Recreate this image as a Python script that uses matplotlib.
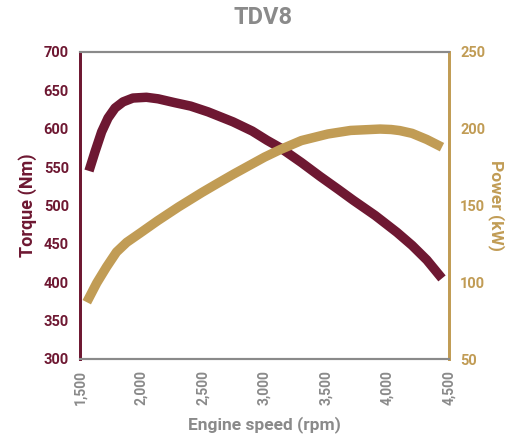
import matplotlib
matplotlib.use("Agg")
import matplotlib.pyplot as plt
from matplotlib.ticker import FuncFormatter

# Data
torque_rpm = [1573, 1622, 1676, 1728, 1785, 1850, 1930, 2040, 2135, 2270, 2400,
              2541, 2744, 2900, 3020, 3130, 3300, 3451, 3600, 3720, 3900,
              4077, 4200, 4320, 4443]
torque_nm = [545, 570, 596, 614, 627, 635, 640, 641, 639, 634, 629.5,
             622, 609, 597, 585, 575, 556, 538, 521, 507, 487,
             465, 448, 429, 405]

power_rpm = [1555, 1636, 1716, 1797, 1880, 1988, 2130, 2300, 2492, 2620, 2750,
             3000, 3130, 3300, 3516, 3700, 3940, 4030, 4100, 4200, 4320, 4443]
power_kw = [87, 99.5, 110, 119.7, 126, 132, 140, 149, 158.5, 164.5, 170.5,
            181.5, 186.5, 192.3, 196.6, 198.9, 199.8, 199.5, 198.8, 197, 193, 188]

x_ticks = [1500, 2000, 2500, 3000, 3500, 4000, 4500]
torque_ticks = [300, 350, 400, 450, 500, 550, 600, 650, 700]
power_ticks = [50, 100, 150, 200, 250]

MAROON = "#6e1832"
GOLD = "#c19c55"
GRAY = "#8a8a8a"

plt.rcParams['font.family'] = ['Roboto', 'DejaVu Sans']

fig = plt.figure(figsize=(5.11, 4.44), dpi=100)
ax = fig.add_axes([80/511, 1-359/444, (449-80)/511, (359-52)/444])
ax2 = ax.twinx()

ax.plot(torque_rpm, torque_nm, color=MAROON, lw=6.8, solid_capstyle='butt',
        solid_joinstyle='round', zorder=3)
ax2.plot(power_rpm, power_kw, color=GOLD, lw=6.8, solid_capstyle='butt',
         solid_joinstyle='round', zorder=2)

ax.set_xlim(1500, 4500)
ax.set_ylim(300, 700)
ax2.set_ylim(50, 250)
ax.set_xticks(x_ticks)
ax.set_yticks(torque_ticks)
ax2.set_yticks(power_ticks)
ax.xaxis.set_major_formatter(FuncFormatter(lambda v, p: f"{int(v):,}"))

ax.tick_params(axis='x', length=0, pad=8, labelsize=10, labelcolor=GRAY, rotation=90)
ax.tick_params(axis='y', length=0, pad=8, labelsize=10.5, labelcolor=MAROON)
ax2.tick_params(axis='y', length=0, pad=8, labelsize=10.5, labelcolor=GOLD)
for lab in ax.get_xticklabels() + ax.get_yticklabels() + ax2.get_yticklabels():
    lab.set_fontweight('bold')

for a in (ax, ax2):
    a.spines['top'].set_color(GRAY)
    a.spines['bottom'].set_color(GRAY)
    a.spines['top'].set_linewidth(1.5)
    a.spines['bottom'].set_linewidth(1.5)
    a.spines['left'].set_color(MAROON)
    a.spines['left'].set_linewidth(2)
    a.spines['right'].set_color(GOLD)
    a.spines['right'].set_linewidth(2)

ax.set_ylabel("Torque (Nm)", color=MAROON, fontsize=13, fontweight='bold', labelpad=5)
ax2.set_ylabel("Power (kW)", color=GOLD, fontsize=12.5, fontweight='bold', rotation=270, labelpad=14)
ax.set_xlabel("Engine speed (rpm)", color=GRAY, fontsize=12.5, fontweight='bold', labelpad=8)
fig.text(263/511, 1-17/444, "TDV8", color=GRAY, fontsize=17, fontweight='bold', ha='center', va='center')

fig.savefig("out.png", dpi=100)
